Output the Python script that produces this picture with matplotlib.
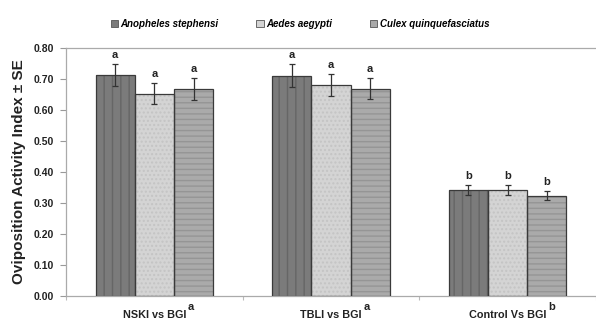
import matplotlib
matplotlib.use("Agg")
import matplotlib.pyplot as plt
from matplotlib.patches import Patch
import numpy as np

plt.rcParams['font.family'] = ['Liberation Sans', 'DejaVu Sans']

categories = ["NSKI vs BGI", "TBLI vs BGI", "Control Vs BGI"]
cat_sup = ["a", "a", "b"]
series = ["Anopheles stephensi", "Aedes aegypti", "Culex quinquefasciatus"]
anopheles = [0.713, 0.711, 0.342]
aedes = [0.653, 0.680, 0.342]
culex = [0.668, 0.669, 0.324]
anopheles_se = [0.035, 0.036, 0.017]
aedes_se = [0.034, 0.035, 0.017]
culex_se = [0.035, 0.034, 0.015]
anopheles_lbl = ["a", "a", "b"]
aedes_lbl = ["a", "a", "b"]
culex_lbl = ["a", "a", "b"]
yticks = [0.0, 0.1, 0.2, 0.3, 0.4, 0.5, 0.6, 0.7, 0.8]

vals = [anopheles, aedes, culex]
errs = [anopheles_se, aedes_se, culex_se]
lbls = [anopheles_lbl, aedes_lbl, culex_lbl]
faces = ['#7b7b7b', '#d4d4d4', '#aaaaaa']
hcols = ['#666666', '#c4c4c4', '#959595']
hatches = ['||', '....', '---']

fig = plt.figure(figsize=(5.96, 3.22), dpi=100)
ax = fig.add_axes([66/596, 26/322, 1 - 66/596, (296-48)/322])

x = np.arange(len(categories))
w = 0.222
plt.rcParams['hatch.linewidth'] = 1.0
for i in range(3):
    pos = x + (i - 1) * w
    ax.bar(pos, vals[i], w, color=faces[i], edgecolor=hcols[i], hatch=hatches[i], linewidth=0, zorder=2)
    ax.bar(pos, vals[i], w, fill=False, edgecolor='#3a3a3a', linewidth=0.9, zorder=3)
    ax.errorbar(pos, vals[i], yerr=errs[i], fmt='none', ecolor='#333333', elinewidth=0.9,
                capsize=2.3, capthick=0.9, zorder=4)
    for p, v, e, t in zip(pos, vals[i], errs[i], lbls[i]):
        ax.annotate(t, (p, v + e), xytext=(0, 3), textcoords='offset points',
                    ha='center', va='bottom', fontsize=8, fontweight='bold', color='#222222')

ax.set_ylim(0, 0.8)
ax.set_xlim(-0.5, 2.44)
ax.set_yticks(yticks)
ax.set_yticklabels([f"{v:.2f}" for v in yticks], fontsize=7.5, fontweight='bold', color='#222222')
ax.tick_params(axis='y', length=4, color='#999999', width=0.8, pad=5)
ax.set_xticks([-0.5, 0.5, 1.5, 2.5], minor=False)
ax.set_xticklabels([])
ax.tick_params(axis='x', length=3, color='#bbbbbb', width=0.8)
for s in ['left', 'top', 'bottom']:
    ax.spines[s].set_color('#aaaaaa')
    ax.spines[s].set_linewidth(0.9)
ax.spines['right'].set_visible(False)

ax.set_ylabel("Oviposition Activity Index \u00b1 SE", fontsize=11, fontweight='bold',
              color='#222222', labelpad=5)

handles = [Patch(facecolor=faces[i], edgecolor='#555555', linewidth=0.6) for i in range(3)]
leg = fig.legend(handles, series, loc='center', bbox_to_anchor=(300/596, 1 - 24/322), ncol=3,
                 frameon=False, handlelength=0.75, handleheight=0.75, handletextpad=0.25,
                 columnspacing=3.9, prop={'size': 7, 'weight': 'bold', 'style': 'italic'})

texts = []
for xi, c in zip(x, categories):
    t = ax.text(xi, -0.057, c, transform=ax.get_xaxis_transform(), ha='center', va='top',
                fontsize=7.8, fontweight='bold', color='#222222')
    texts.append(t)

fig.canvas.draw()
r = fig.canvas.get_renderer()
inv = fig.transFigure.inverted()
for t, s in zip(texts, cat_sup):
    bb = t.get_window_extent(renderer=r)
    fx, fy = inv.transform((bb.x1 + 1.5, bb.y1 - 2))
    fig.text(fx, fy, s, ha='left', va='bottom', fontsize=8, fontweight='bold', color='#222222')

fig.savefig("out.png", dpi=100)
